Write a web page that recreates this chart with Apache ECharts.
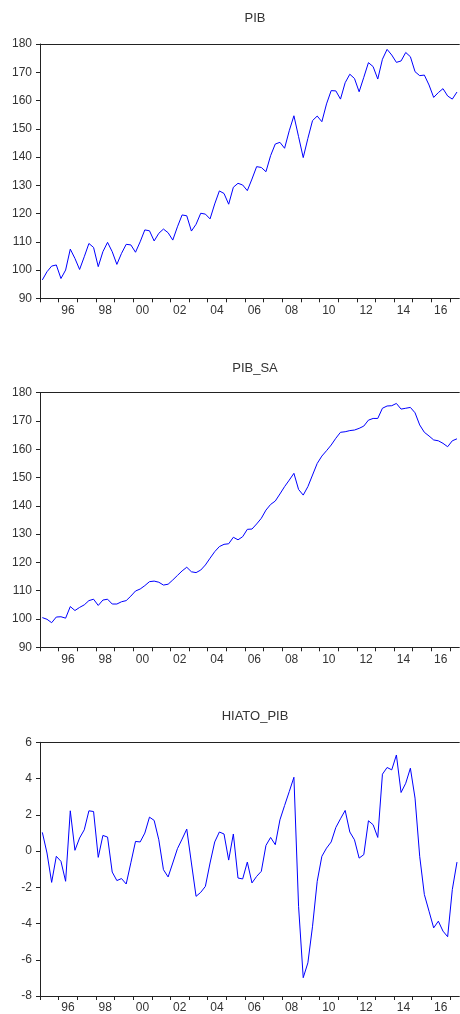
<!DOCTYPE html>
<html>
<head>
<meta charset="utf-8">
<title>PIB, PIB_SA, HIATO_PIB</title>
<script src="https://cdn.jsdelivr.net/npm/echarts@6/dist/echarts.min.js"></script>
<style>
  html, body { margin: 0; padding: 0; background: #fff; overflow: hidden; }
  #chart { width: 460px; height: 1014px; }
</style>
</head>
<body>
<div id="chart"></div>
<script>
// Quarterly series, 1995Q1 .. 2017Q2
const startYear = 1995;

const pib = [
  96.5, 99.4, 101.4, 101.8, 97.0, 100.0, 107.4, 104.1,
  100.2, 104.7, 109.4, 108.0, 101.2, 106.5, 109.8, 106.5,
  102.0, 105.9, 109.1, 108.9, 106.3, 110.0, 114.2, 113.9,
  110.3, 113.0, 114.5, 113.2, 110.6, 115.3, 119.5, 119.2,
  113.8, 116.2, 120.1, 119.8, 118.1, 123.4, 128.0, 127.1,
  123.3, 129.3, 130.7, 130.1, 128.1, 132.2, 136.6, 136.3,
  134.8, 140.5, 144.6, 145.2, 143.1, 149.3, 154.6, 147.2,
  139.8, 146.6, 152.9, 154.5, 152.5, 158.8, 163.5, 163.4,
  160.5, 166.3, 169.3, 167.8, 163.1, 168.2, 173.4, 172.0,
  167.6, 174.6, 178.1, 176.1, 173.5, 174.0, 177.0, 175.5,
  170.2, 168.8, 169.0, 165.5, 161.1, 162.8, 164.2, 161.6,
  160.5, 163.0
];

const pibSa = [
  100.5, 99.9, 98.7, 100.7, 100.8, 100.3, 104.4, 103.0,
  104.1, 105.0, 106.5, 107.0, 104.8, 106.7, 107.0, 105.3,
  105.3, 106.1, 106.5, 108.1, 109.9, 110.6, 111.8, 113.2,
  113.4, 113.0, 112.0, 112.3, 113.8, 115.4, 117.0, 118.3,
  116.7, 116.4, 117.3, 119.1, 121.5, 123.8, 125.6, 126.4,
  126.6, 128.9, 128.0, 129.1, 131.7, 131.8, 133.6, 135.6,
  138.5, 140.5, 141.7, 144.2, 146.8, 149.1, 151.5, 145.8,
  143.8, 146.8, 150.9, 155.0, 157.6, 159.5, 161.5, 163.9,
  166.0, 166.2, 166.6, 166.8, 167.4, 168.2, 170.3, 170.9,
  170.9, 174.5, 175.3, 175.4, 176.2, 174.2, 174.5, 174.8,
  172.9, 168.6, 166.0, 164.7, 163.3, 163.0, 162.1, 160.9,
  163.0, 163.7
];

const hiatoPib = [
  1.03, -0.11, -1.73, -0.29, -0.57, -1.67, 2.22, 0.04,
  0.72, 1.17, 2.22, 2.18, -0.35, 0.86, 0.77, -1.16,
  -1.63, -1.52, -1.82, -0.65, 0.53, 0.50, 0.99, 1.87,
  1.69, 0.62, -1.03, -1.43, -0.66, 0.13, 0.66, 1.21,
  -0.66, -2.50, -2.28, -1.95, -0.66, 0.50, 1.05, 0.94,
  -0.50, 0.94, -1.49, -1.54, -0.61, -1.76, -1.40, -1.12,
  0.31, 0.75, 0.35, 1.72, 2.51, 3.28, 4.07, -3.05,
  -6.99, -6.17, -4.15, -1.67, -0.29, 0.16, 0.50, 1.30,
  1.78, 2.24, 1.05, 0.62, -0.39, -0.20, 1.67, 1.45,
  0.75, 4.24, 4.61, 4.48, 5.30, 3.23, 3.74, 4.57,
  2.92, -0.29, -2.40, -3.32, -4.24, -3.87, -4.42, -4.73,
  -2.13, -0.61
];

const titles = ['PIB', 'PIB_SA', 'HIATO_PIB'];
const seriesList = [pib, pibSa, hiatoPib];
const yRanges = [
  { min: 90, max: 180, interval: 10 },
  { min: 90, max: 180, interval: 10 },
  { min: -8, max: 6, interval: 2 }
];

const nQ = pib.length;                 // number of quarters
// quarter boundaries 0..nQ: ticks at year starts, labels at year centres
const boundaries = Array.from({ length: nQ + 1 }, (_, i) => String(i));

const FONT = '"Liberation Sans", Arial, Helvetica, sans-serif';
const TEXT = '#333';
const AXIS = '#222';

const grids = [
  { left: 40, top: 44, width: 419.3, height: 254.3 },
  { left: 40, top: 392.7, width: 419.3, height: 254.6 },
  { left: 40, top: 742.3, width: 419.3, height: 254.4 }
];
const titleTops = [7, 357, 705];

const option = {
  animation: false,
  backgroundColor: '#fff',
  title: titles.map((t, k) => ({
    text: t,
    left: 250,
    top: titleTops[k],
    textAlign: 'center',
    textStyle: { fontFamily: FONT, fontSize: 13, fontWeight: 'normal', color: TEXT }
  })),
  grid: grids,
  xAxis: [],
  yAxis: [],
  series: []
};

seriesList.forEach((vals, k) => {
  // data axis (hidden scale) doubling as the top frame line
  option.xAxis.push({
    type: 'value', gridIndex: k, min: 0, max: nQ, position: 'top',
    axisLine: { show: true, onZero: false, lineStyle: { color: AXIS, width: 1 } },
    axisTick: { show: false }, axisLabel: { show: false }, splitLine: { show: false }
  });
  // bottom axis: ticks at year boundaries, two-digit labels every other year
  option.xAxis.push({
    type: 'category', gridIndex: k, position: 'bottom', boundaryGap: false,
    data: boundaries,
    axisLine: { show: true, onZero: false, lineStyle: { color: AXIS, width: 1 } },
    axisTick: {
      show: true, inside: false, length: 4,
      interval: (i) => i % 4 === 0,
      lineStyle: { color: AXIS }
    },
    axisLabel: {
      show: true, margin: 6,
      interval: (i) => i % 8 === 6,
      formatter: (v) => {
        const yr = startYear + (Number(v) - 2) / 4;
        return String(yr % 100).padStart(2, '0');
      },
      fontFamily: FONT, fontSize: 12, color: TEXT
    },
    splitLine: { show: false }
  });
  option.yAxis.push({
    type: 'value', gridIndex: k,
    min: yRanges[k].min, max: yRanges[k].max, interval: yRanges[k].interval,
    axisLine: { show: true, onZero: false, lineStyle: { color: AXIS, width: 1 } },
    axisTick: { show: true, inside: false, length: 4, lineStyle: { color: AXIS } },
    axisLabel: { margin: 8, fontFamily: FONT, fontSize: 12, color: TEXT },
    splitLine: { show: false }
  });
  option.series.push({
    type: 'line',
    xAxisIndex: 2 * k,
    yAxisIndex: k,
    data: vals.map((v, i) => [i + 0.5, v]),
    showSymbol: false,
    lineStyle: { color: '#0000ff', width: 1 },
    itemStyle: { color: '#0000ff' }
  });
});

const chart = echarts.init(document.getElementById('chart'), null, { renderer: 'canvas' });
chart.setOption(option);
</script>
</body>
</html>
